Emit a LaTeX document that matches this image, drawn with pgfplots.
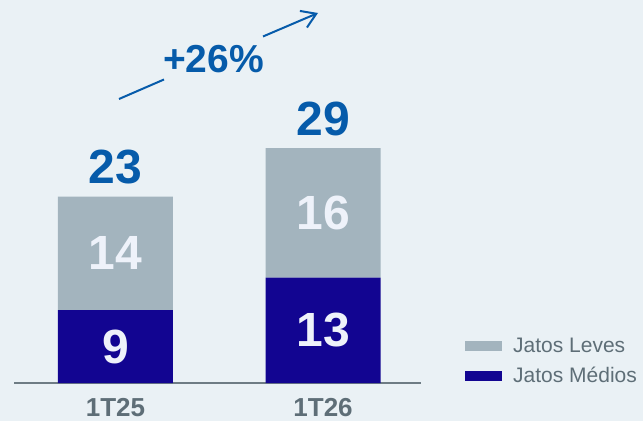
\documentclass[border=0pt]{standalone}
\usepackage{pgfplots}
\pgfplotsset{compat=1.18}
\usepackage{fontspec}
\setmainfont{Liberation Sans}
\usetikzlibrary{arrows.meta}
\definecolor{bg}{HTML}{EAF1F5}
\definecolor{navy}{HTML}{120591}
\definecolor{graybar}{HTML}{A3B4BE}
\definecolor{valblue}{HTML}{065BAA}
\definecolor{tickgray}{HTML}{5E6E77}
\definecolor{axisgray}{HTML}{6E7C84}
\definecolor{lbl}{HTML}{EEF2FA}
\tikzset{big/.style={font=\fontsize{48bp}{50bp}\selectfont\bfseries}}
\begin{document}
\begin{tikzpicture}
\fill[bg] (0,0) rectangle (643bp,421bp);
\begin{axis}[
  at={(14bp,38bp)}, anchor=south west,
  scale only axis, width=407bp, height=283.5bp,
  xmin=-0.489, xmax=1.472, ymin=0, ymax=35,
  ybar stacked, bar width=115bp,
  axis x line*=bottom, axis y line=none,
  x axis line style={draw=axisgray, line width=2bp},
  xtick={0,1}, xticklabels={1T25,1T26}, major tick length=0pt, ytick=\empty,
  xticklabel style={font=\fontsize{26bp}{28bp}\selectfont\bfseries, text=tickgray,
    inner sep=0pt, anchor=north, yshift=-15bp},
  clip=false,
  reverse legend,
  legend image code/.code={
    \path[draw=none, fill=none] (0bp,-4bp) rectangle (48bp,12bp);
    \fill[#1] (0bp,-4bp) rectangle (37bp,6bp);},
  legend style={at={(axis description cs:1.108,0.169)}, anchor=north west,
    draw=none, fill=none, inner sep=0pt,
    font=\fontsize{21bp}{24bp}\selectfont, text=tickgray,
    nodes={inner sep=0pt, text height=14bp, text depth=4bp},
    row sep=9bp},
  legend cell align=left,
  after end axis/.append code={
    \node[big, text=lbl] at (axis cs:0,4.5) {9};
    \node[big, text=lbl] at (axis cs:0,16) {14};
    \node[big, text=lbl] at (axis cs:1,6.5) {13};
    \node[big, text=lbl] at (axis cs:1,21) {16};
    \node[big, text=valblue, anchor=base, yshift=13bp] at (axis cs:0,23) {23};
    \node[big, text=valblue, anchor=base, yshift=13bp] at (axis cs:1,29) {29};
  },
]
\addplot[fill=navy, draw=none] coordinates {(0,9) (1,13)};
\addplot[fill=graybar, draw=none] coordinates {(0,14) (1,16)};
\legend{Jatos Médios, Jatos Leves}
\end{axis}
\draw[valblue, line width=2bp] (119bp,322bp) -- (164bp,341.5bp);
\draw[valblue, line width=2bp, -{Straight Barb[length=14bp,width=18bp]}] (263bp,384.5bp) -- (318bp,408bp);
\node[text=valblue, font=\fontsize{39bp}{42bp}\selectfont\bfseries] at (213.5bp,362bp) {+26\%};
\pgfresetboundingbox
\useasboundingbox (0,0) rectangle (643bp,421bp);
\end{tikzpicture}
\end{document}
